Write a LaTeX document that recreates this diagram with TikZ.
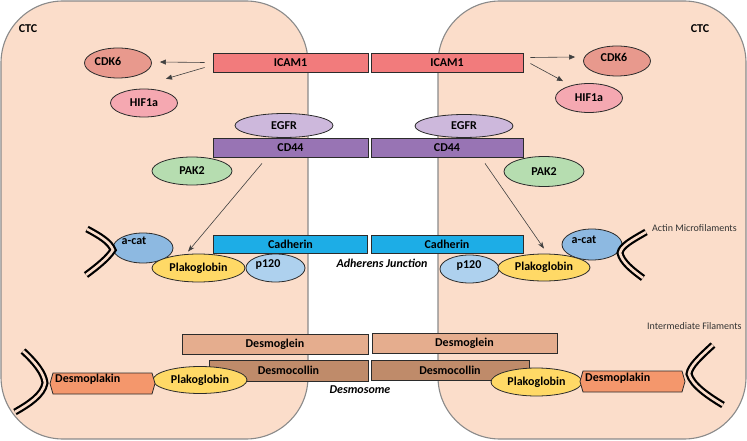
\documentclass[tikz,border=0pt]{standalone}
\usepackage{fontspec}
\setmainfont{Carlito}
\usetikzlibrary{arrows.meta,shapes.geometric}
\definecolor{cellfill}{HTML}{FBDDCA}
\definecolor{celledge}{HTML}{8A8A8A}
\definecolor{icamc}{HTML}{F27B7C}
\definecolor{cdkc}{HTML}{E8998D}
\definecolor{hifc}{HTML}{F5A8B1}
\definecolor{egfrc}{HTML}{CDB8DC}
\definecolor{cdc}{HTML}{9874B4}
\definecolor{pakc}{HTML}{B6DDB0}
\definecolor{cadc}{HTML}{1DADE6}
\definecolor{acatc}{HTML}{8DB9E1}
\definecolor{p120c}{HTML}{AED1EE}
\definecolor{plakc}{HTML}{FFD966}
\definecolor{dsgc}{HTML}{E5AD8E}
\definecolor{dscc}{HTML}{BF8B6A}
\definecolor{dspc}{HTML}{F4976C}
\definecolor{outl}{HTML}{2B2B2B}
\definecolor{arrc}{HTML}{404040}
\definecolor{stxt}{HTML}{333333}
\tikzset{
  cell/.style={draw=celledge,line width=1.1pt,fill=cellfill,rounded corners=62pt},
  box/.style={rectangle,draw=outl,line width=0.8pt,inner sep=0pt,font=\fontsize{12}{14}\selectfont\bfseries},
  ell/.style={ellipse,draw=outl,line width=0.8pt,inner sep=0pt,font=\fontsize{12}{14}\selectfont\bfseries},
  lbl/.style={inner sep=0pt,font=\fontsize{12}{14}\selectfont\bfseries},
  ilbl/.style={inner sep=0pt,font=\fontsize{12}{14}\selectfont\bfseries\itshape},
  slbl/.style={inner sep=0pt,text=stxt,font=\fontsize{10}{12}\selectfont},
  arr/.style={draw=arrc,line width=0.6pt,-{Triangle[length=6pt,width=5pt]}},
  fil/.style={draw=black,line width=2.2pt,double=cellfill,double distance=2.6pt},
}
\begin{document}
\begin{tikzpicture}[x=1pt,y=-1pt]
\useasboundingbox (0,0) rectangle (747,441);
% cells
\draw[cell] (1,1) rectangle (308,439);
\draw[cell] (438,1) rectangle (746,439);
\node[lbl] (ctcL) at (28,29) {CTC};
\node[lbl] (ctcR) at (700,29) {CTC};
% ICAM1
\node[box,fill=icamc,minimum width=155pt,minimum height=19pt] (icamL) at (290.5,62.5) {ICAM1};
\node[box,fill=icamc,minimum width=152pt,minimum height=19pt] (icamR) at (447,62.5) {ICAM1};
\node[ell,fill=cdkc,minimum width=67pt,minimum height=30pt] (cdkL) at (118,63) {};
\node[lbl] (cdkLt) at (108,61) {CDK6};
\node[ell,fill=hifc,minimum width=67pt,minimum height=28pt] (hifL) at (144,103) {HIF1a};
\node[ell,fill=cdkc,minimum width=67pt,minimum height=30pt] (cdkR) at (617,61) {};
\node[lbl] (cdkRt) at (614,57) {CDK6};
\node[ell,fill=hifc,minimum width=67pt,minimum height=29pt] (hifR) at (589,98) {HIF1a};
\draw[arr] ([shift={(-8,0)}]icamL.west) -- ([shift={(8,-1)}]cdkL.east);
\draw[arr] ([shift={(-8,5)}]icamL.west) -- ([shift={(-2,-14)}]hifL.north east);
\draw[arr] ([shift={(7,-5)}]icamR.east) -- ([shift={(-8,-4)}]cdkR.west);
\draw[arr] ([shift={(7,1)}]icamR.east) -- ([shift={(-26,-2)}]hifR.north);
% CD44
\node[box,fill=cdc,minimum width=155pt,minimum height=19pt] (cdL) at (290.5,147.5) {CD44};
\node[box,fill=cdc,minimum width=152pt,minimum height=19pt] (cdR) at (447,147.5) {CD44};
\node[ell,fill=egfrc,minimum width=98pt,minimum height=24pt] (egfrL) at (284,125.5) {EGFR};
\node[ell,fill=egfrc,minimum width=98pt,minimum height=23pt] (egfrR) at (464,126) {EGFR};
\node[ell,fill=pakc,minimum width=80pt,minimum height=28pt] (pakL) at (192,171) {PAK2};
\node[ell,fill=pakc,minimum width=80pt,minimum height=30pt] (pakR) at (544,171.5) {PAK2};
% Cadherin
\node[box,fill=cadc,minimum width=154pt,minimum height=18pt] (cadL) at (290.5,244) {Cadherin};
\node[box,fill=cadc,minimum width=152pt,minimum height=18pt] (cadR) at (447,244) {Cadherin};
\node[ilbl] (adh) at (382,263) {Adherens Junction};
% left adherens complex
\node[ell,fill=acatc,minimum width=60pt,minimum height=30pt] (acatL) at (143,248) {};
\node[lbl] (acatLt) at (134,241) {a-cat};
\node[ell,fill=p120c,minimum width=59pt,minimum height=28pt] (p120L) at (275.5,268) {};
\node[lbl] (p120Lt) at (268,265) {p120};
\node[ell,fill=plakc,minimum width=93pt,minimum height=28pt] (plakL) at (198.5,268) {Plakoglobin};
% right adherens complex
\node[ell,fill=acatc,minimum width=60pt,minimum height=31pt] (acatR) at (592,244.5) {};
\node[lbl] (acatRt) at (584,240) {a-cat};
\node[ell,fill=p120c,minimum width=59pt,minimum height=28pt] (p120R) at (469.5,269) {};
\node[lbl] (p120Rt) at (469,266) {p120};
\node[ell,fill=plakc,minimum width=92pt,minimum height=27pt] (plakR) at (544,267.5) {Plakoglobin};
% CD44 arrows
\draw[arr,-{Stealth[length=7pt,width=5pt]}] ([shift={(-28.5,6)}]cdL.south) -- ([shift={(-10.5,-2)}]plakL.north);
\draw[arr,-{Stealth[length=7pt,width=5pt]}] ([shift={(38,6)}]cdR.south) -- ([shift={(0,-5)}]plakR.north);
% actin filaments
\draw[fil] (87,229) .. controls (100,236) and (110,242) .. (113,250) .. controls (108,258) and (98,266) .. (86,275);
\draw[fil] (646,232) .. controls (632,240) and (621,246) .. (620,253) .. controls (622,262) and (632,270) .. (643,278);
\node[slbl,anchor=west] (actinlbl) at (652,228) {Actin Microfilaments};
\node[slbl,anchor=west] (interlbl) at (647,326) {Intermediate Filaments};
% desmosome
\node[box,fill=dsgc,minimum width=186pt,minimum height=20pt] (dsgL) at (275,344) {Desmoglein};
\node[box,fill=dsgc,minimum width=185pt,minimum height=20pt] (dsgR) at (464.5,343) {Desmoglein};
\node[box,fill=dscc,minimum width=159pt,minimum height=21pt] (dscL) at (288.5,370.5) {Desmocollin};
\node[box,fill=dscc,minimum width=158pt,minimum height=20pt] (dscR) at (450,370) {Desmocollin};
\node[ilbl] (desmo) at (360,390) {Desmosome};
\node[ell,fill=plakc,minimum width=94pt,minimum height=27pt] (plak2L) at (200,380) {Plakoglobin};
\node[ell,fill=plakc,minimum width=91pt,minimum height=28pt] (plak2R) at (536.5,382) {Plakoglobin};
% desmoplakin
\draw[draw=outl,line width=0.8pt,fill=dspc] (53,373) -- (152,373) -- (155,383.5) -- (152,394) -- (53,394) -- (50,383.5) -- cycle;
\node[lbl,anchor=west] (dspL) at (55,379.5) {Desmoplakin};
\draw[draw=outl,line width=0.8pt,fill=dspc] (583,371) -- (682,371) -- (685,381.5) -- (682,392) -- (583,392) -- (580,381.5) -- cycle;
\node[lbl,anchor=west] (dspR) at (585,378) {Desmoplakin};
% intermediate filaments
\draw[fil] (23,351) .. controls (35,362) and (44,373) .. (45,383) .. controls (43,395) and (29,404) .. (15,412);
\draw[fil] (713,345) .. controls (700,357) and (690,366) .. (689,374) .. controls (692,385) and (708,396) .. (723,405);
\end{tikzpicture}
\end{document}
